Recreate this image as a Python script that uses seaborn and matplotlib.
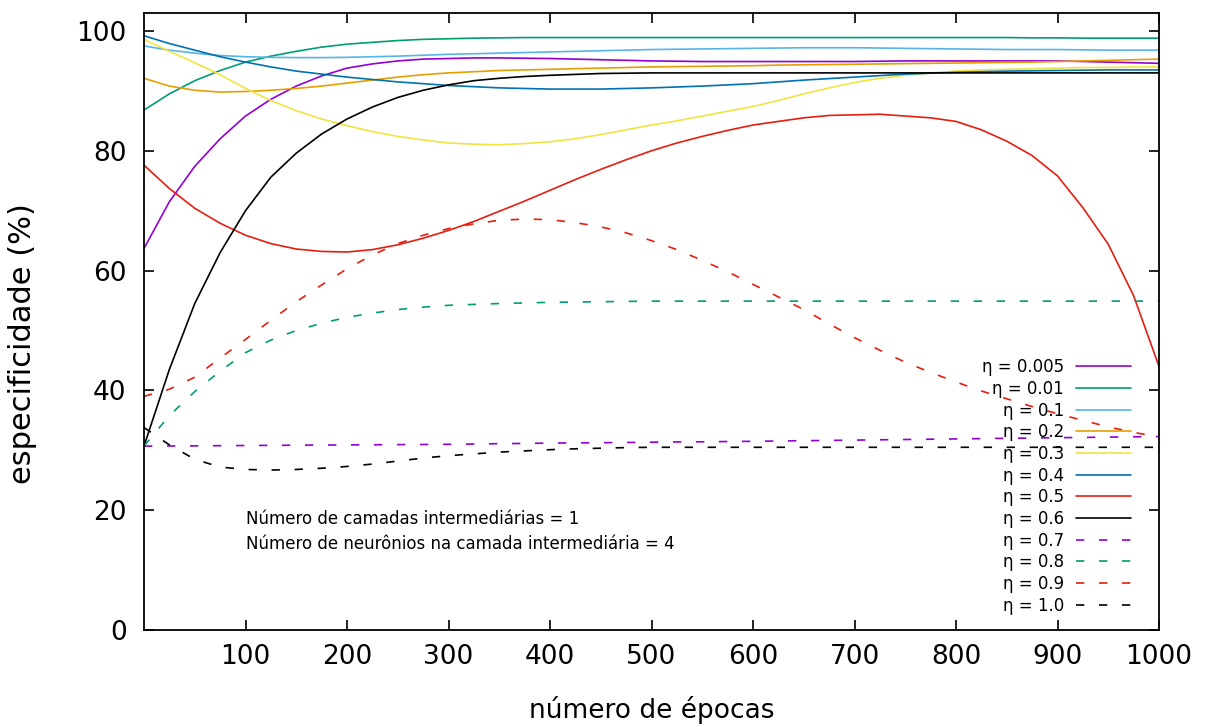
import matplotlib
matplotlib.use("Agg")
import matplotlib.pyplot as plt
import seaborn as sns
import pandas as pd

# ---------------- data ----------------
epochs = [0, 25, 50, 75, 100, 125, 150, 175, 200, 225, 250, 275, 300, 325, 350, 375, 400,
          425, 450, 475, 500, 525, 550, 575, 600, 625, 650, 675, 700, 725, 750, 775, 800,
          825, 850, 875, 900, 925, 950, 975, 1000]

eta_0_005 = [63.7, 71.5, 77.4, 82.0, 85.8, 88.6, 90.8, 92.5, 93.8, 94.5, 95.0, 95.3, 95.4, 95.5, 95.5, 95.45, 95.4,
             95.3, 95.2, 95.1, 95.0, 94.95, 94.9, 94.9, 94.9, 94.9, 94.9, 94.9, 94.9, 94.95, 95.0, 95.0, 95.0,
             95.0, 95.0, 95.0, 95.0, 94.9, 94.8, 94.7, 94.6]
eta_0_01 = [86.8, 89.5, 91.7, 93.4, 94.8, 95.8, 96.6, 97.3, 97.8, 98.1, 98.4, 98.6, 98.7, 98.8, 98.85, 98.9, 98.9,
            98.9, 98.9, 98.9, 98.9, 98.9, 98.9, 98.9, 98.9, 98.9, 98.9, 98.9, 98.9, 98.9, 98.9, 98.9, 98.9,
            98.9, 98.9, 98.85, 98.85, 98.8, 98.8, 98.8, 98.8]
eta_0_1 = [97.5, 96.8, 96.3, 95.9, 95.7, 95.6, 95.55, 95.55, 95.6, 95.7, 95.8, 95.95, 96.1, 96.2, 96.3, 96.4, 96.5,
           96.6, 96.7, 96.8, 96.9, 96.95, 97.0, 97.05, 97.1, 97.15, 97.2, 97.2, 97.2, 97.15, 97.1, 97.05, 97.0,
           96.95, 96.9, 96.9, 96.9, 96.85, 96.8, 96.8, 96.8]
eta_0_2 = [92.1, 90.8, 90.1, 89.8, 89.9, 90.1, 90.4, 90.8, 91.3, 91.8, 92.3, 92.7, 93.0, 93.2, 93.4, 93.5, 93.6,
           93.7, 93.8, 93.9, 94.0, 94.05, 94.1, 94.15, 94.2, 94.3, 94.35, 94.4, 94.45, 94.5, 94.55, 94.6, 94.65,
           94.7, 94.75, 94.8, 94.9, 95.0, 95.1, 95.2, 95.3]
eta_0_3 = [98.6, 96.6, 94.7, 92.7, 90.4, 88.4, 86.7, 85.3, 84.2, 83.2, 82.4, 81.8, 81.3, 81.1, 81.0, 81.2, 81.5,
           82.0, 82.7, 83.5, 84.3, 85.0, 85.8, 86.6, 87.4, 88.4, 89.5, 90.5, 91.4, 92.1, 92.6, 93.0, 93.3,
           93.5, 93.6, 93.7, 93.8, 93.9, 93.9, 94.0, 94.0]
eta_0_4 = [99.2, 97.9, 96.8, 95.7, 94.8, 94.0, 93.3, 92.8, 92.3, 91.9, 91.5, 91.2, 90.9, 90.7, 90.5, 90.4, 90.3,
           90.3, 90.3, 90.4, 90.5, 90.65, 90.8, 91.0, 91.2, 91.5, 91.8, 92.05, 92.3, 92.55, 92.8, 92.95, 93.1,
           93.2, 93.3, 93.35, 93.4, 93.45, 93.5, 93.5, 93.5]
eta_0_5 = [77.6, 73.7, 70.4, 67.9, 65.9, 64.5, 63.6, 63.2, 63.1, 63.5, 64.3, 65.4, 66.7, 68.2, 69.9, 71.6, 73.4,
           75.2, 76.9, 78.5, 80.0, 81.3, 82.4, 83.4, 84.3, 84.9, 85.5, 85.9, 86.0, 86.1, 85.8, 85.5, 84.9,
           83.5, 81.6, 79.2, 75.8, 70.5, 64.4, 55.8, 44.0]
eta_0_6 = [30.7, 43.5, 54.5, 63.0, 70.0, 75.6, 79.6, 82.8, 85.3, 87.3, 88.9, 90.1, 91.0, 91.7, 92.1, 92.4, 92.6,
           92.75, 92.9, 92.95, 93.0, 93.0, 93.0, 93.0, 93.0, 93.0, 93.0, 93.0, 93.0, 93.0, 93.0, 93.0, 93.0,
           93.0, 93.0, 93.0, 93.0, 93.0, 93.0, 93.0, 93.0]
eta_0_7 = [30.7, 30.72, 30.74, 30.77, 30.8, 30.82, 30.85, 30.87, 30.9, 30.92, 30.95, 30.97, 31.0, 31.05, 31.1, 31.15, 31.2,
           31.23, 31.27, 31.3, 31.35, 31.4, 31.42, 31.46, 31.5, 31.55, 31.6, 31.65, 31.7, 31.75, 31.8, 31.85, 31.9,
           31.95, 32.0, 32.05, 32.1, 32.15, 32.2, 32.25, 32.3]
eta_0_8 = [30.7, 35.8, 39.8, 43.2, 46.3, 48.4, 50.0, 51.2, 52.2, 52.9, 53.5, 53.9, 54.2, 54.35, 54.5, 54.6, 54.7,
           54.75, 54.8, 54.85, 54.9, 54.9, 54.9, 54.9, 54.9, 54.9, 54.9, 54.9, 54.9, 54.9, 54.9, 54.9, 54.9,
           54.9, 54.9, 54.9, 54.9, 54.9, 54.9, 54.9, 54.9]
eta_0_9 = [39.0, 40.2, 42.2, 45.4, 48.5, 51.7, 54.8, 57.6, 60.3, 62.6, 64.5, 65.9, 67.0, 67.8, 68.4, 68.6, 68.5,
           68.0, 67.3, 66.3, 65.0, 63.5, 61.7, 59.8, 57.7, 55.6, 53.5, 51.1, 48.8, 46.7, 44.7, 43.0, 41.4,
           39.9, 38.6, 37.3, 36.1, 35.0, 33.9, 33.0, 32.2]
eta_1_0 = [33.8, 30.9, 28.5, 27.2, 26.8, 26.7, 26.8, 27.0, 27.3, 27.7, 28.2, 28.7, 29.1, 29.4, 29.7, 29.9, 30.1,
           30.25, 30.35, 30.45, 30.5, 30.5, 30.5, 30.5, 30.5, 30.5, 30.5, 30.5, 30.5, 30.5, 30.5, 30.5, 30.5,
           30.5, 30.5, 30.5, 30.5, 30.5, 30.5, 30.5, 30.5]

labels = ["η = 0.005", "η = 0.01", "η = 0.1", "η = 0.2", "η = 0.3", "η = 0.4",
          "η = 0.5", "η = 0.6", "η = 0.7", "η = 0.8", "η = 0.9", "η = 1.0"]
series = [eta_0_005, eta_0_01, eta_0_1, eta_0_2, eta_0_3, eta_0_4,
          eta_0_5, eta_0_6, eta_0_7, eta_0_8, eta_0_9, eta_1_0]
x_ticks = [100, 200, 300, 400, 500, 600, 700, 800, 900, 1000]
y_ticks = [0, 20, 40, 60, 80, 100]
annotation = "Número de camadas intermediárias = 1\nNúmero de neurônios na camada intermediária = 4"

# ---------------- style ----------------
colors = ["#9400d3", "#009e73", "#56b4e9", "#e69f00", "#f0e442", "#0072b2",
          "#e51e10", "#000000", "#9400d3", "#009e73", "#e51e10", "#000000"]
dashed = [False] * 8 + [True] * 4

sns.set_theme(style="white")
plt.rcParams["font.family"] = ["DejaVu Sans"]
plt.rcParams["text.color"] = "black"
plt.rcParams["axes.labelcolor"] = "black"
plt.rcParams["xtick.color"] = "black"
plt.rcParams["ytick.color"] = "black"

fig = plt.figure(figsize=(12.11, 7.27), dpi=100)
ax = fig.add_axes([144 / 1211, 97 / 727, (1159 - 144) / 1211, (630 - 13) / 727])

lw = 1.2
handles = []
for lab, vals, col, d in zip(labels, series, colors, dashed):
    df = pd.DataFrame({"epoca": epochs, "valor": vals})
    sns.lineplot(data=df, x="epoca", y="valor", ax=ax, color=col, linewidth=lw,
                 label=lab, legend=False)
    line = ax.lines[-1]
    if d:
        line.set_dashes((5.0, 8.8))
    handles.append(line)

ax.set_xlim(0, 1000)
ax.set_ylim(0, 103)
ax.set_xticks(x_ticks)
ax.set_yticks(y_ticks)
ax.tick_params(axis="both", which="both", direction="in", length=7, width=1.2,
               labelsize=19, top=True, right=True, bottom=True, left=True,
               colors="black")
ax.tick_params(axis="x", pad=10)
ax.tick_params(axis="y", pad=12.5)
for s in ax.spines.values():
    s.set_visible(True)
    s.set_color("black")
    s.set_linewidth(1.3)

ax.set_xlabel("número de épocas", fontsize=19, labelpad=19)
ax.set_ylabel("especificidade (%)", fontsize=22)
ax.yaxis.set_label_coords(-0.105, 0.465)

ax.text(100, 20.0, annotation, fontsize=12, va="top", ha="left", linespacing=1.5)

leg = ax.legend(handles=handles, labels=labels, loc="lower right",
                bbox_to_anchor=(0.9724, 0.025), frameon=False, markerfirst=False,
                fontsize=12, handlelength=3.3, handletextpad=0.72,
                labelspacing=0.22, borderpad=0, borderaxespad=0)
for t in leg.get_texts():
    t.set_ha("right")

fig.savefig("out.png", dpi=100)
